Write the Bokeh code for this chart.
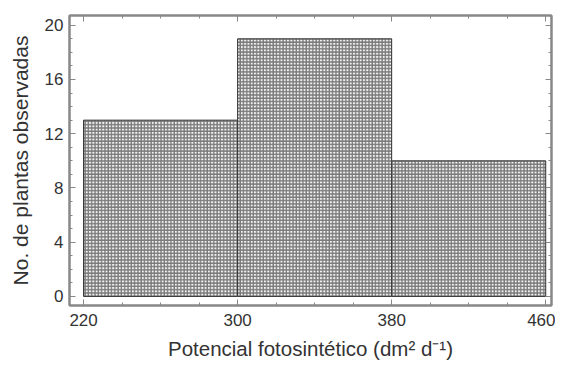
from bokeh.plotting import figure
from bokeh.models import LinearAxis, FixedTicker, Range1d
from bokeh.embed import file_html
from bokeh.resources import INLINE

bin_left = [220, 300, 380]
bin_right = [300, 380, 460]
counts = [13, 19, 10]
x_ticks = [220, 300, 380, 460]
x_minor = list(range(220, 461, 20))
y_ticks = [0, 4, 8, 12, 16, 20]
y_minor = list(range(0, 21))

p = figure(width=555, height=362, output_backend="svg", toolbar_location=None,
           x_range=Range1d(212.7, 463), y_range=Range1d(-0.67, 20.72),
           min_border_left=69, min_border_top=15, min_border_right=4, min_border_bottom=51,
           x_axis_label="Potencial fotosintético (dm² d⁻¹)",
           y_axis_label="No. de plantas observadas")

bottom = p.below[0]
left = p.left[0]

p.quad(left=bin_left, right=bin_right, bottom=0, top=counts,
       fill_color="#f4f4f4", line_color="#333333", line_width=1,
       hatch_pattern="cross", hatch_scale=3.3, hatch_color="#7a7a7a", hatch_weight=1.4)

p.grid.visible = False
p.outline_line_color = "#888888"
p.outline_line_width = 2

bottom.ticker = FixedTicker(ticks=x_ticks, minor_ticks=x_minor)
left.ticker = FixedTicker(ticks=y_ticks, minor_ticks=y_minor)

top = LinearAxis(ticker=FixedTicker(ticks=x_ticks, minor_ticks=x_minor),
                 major_label_overrides={t: "" for t in x_ticks})
right = LinearAxis(ticker=FixedTicker(ticks=y_ticks, minor_ticks=y_minor),
                   major_label_overrides={t: "" for t in y_ticks})
p.add_layout(top, "above")
p.add_layout(right, "right")

for ax in [bottom, left, top, right]:
    ax.axis_line_color = "#888888"
    ax.axis_line_width = 2
    ax.major_tick_in = 6
    ax.major_tick_out = 0
    ax.minor_tick_in = 3
    ax.minor_tick_out = 0
    ax.major_tick_line_color = "#888888"
    ax.minor_tick_line_color = "#888888"
    ax.major_tick_line_width = 1
    ax.minor_tick_line_width = 1

top.major_label_standoff = 0
right.major_label_standoff = 0

for ax in [bottom, left]:
    ax.major_label_text_font = "Liberation Sans"
    ax.major_label_text_font_size = "17px"
    ax.major_label_text_color = "#333333"
    ax.axis_label_text_font = "Liberation Sans"
    ax.axis_label_text_font_style = "normal"
    ax.axis_label_text_color = "#333333"

bottom.axis_label_text_font_size = "20.5px"
left.axis_label_text_font_size = "21px"
bottom.major_label_standoff = 8
left.major_label_standoff = 6
bottom.axis_label_standoff = 8
left.axis_label_standoff = 10

open("out.html", "w").write(file_html(p, INLINE))
